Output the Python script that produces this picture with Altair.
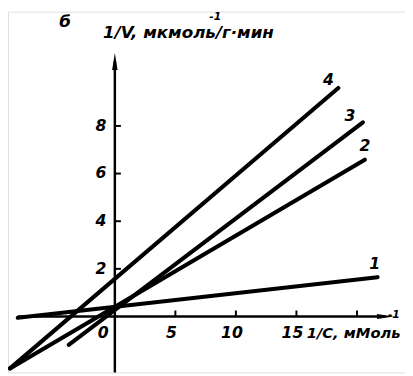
import altair as alt
import pandas as pd

# Line segments (Lineweaver-Burk plot), endpoints
line_ids = ["1", "1", "2", "2", "3", "3", "4", "4"]
line_x = [-8.02, 21.7, -8.66, 20.65, -3.81, 20.49, -8.66, 18.46]
line_y = [-0.05, 1.65, -2.18, 6.58, -1.19, 8.15, -2.18, 9.59]

# Line labels
lab_text = ["1", "2", "3", "4"]
lab_x = [21.46, 20.65, 19.43, 17.65]
lab_y = [2.22, 7.16, 8.40, 9.92]

# Axis ticks
xticks = [5, 10, 15, 20]
xtick_vals = [5, 10, 15]
xtick_labels = ["5", "10", "15"]
yticks = [2, 4, 6, 8]
ytick_labels = ["2", "4", "6", "8"]

XMIN, XMAX = -8.826, 23.968
YMIN, YMAX = -2.346, 12.798
W, H = 405, 368

FONT = "DejaVu Sans"

xs = alt.Scale(domain=[XMIN, XMAX], nice=False, zero=False)
ys = alt.Scale(domain=[YMIN, YMAX], nice=False, zero=False)

def X(f="x"):
    return alt.X(f"{f}:Q", scale=xs, axis=None)

def Y(f="y"):
    return alt.Y(f"{f}:Q", scale=ys, axis=None)

lines_df = pd.DataFrame({"id": line_ids, "x": line_x, "y": line_y})
lines = alt.Chart(lines_df).mark_line(color="black", strokeWidth=4.2, strokeCap="round", clip=False).encode(
    x=X(), y=Y(), detail="id:N"
)

# axes
axes_df = pd.DataFrame({"x": [-8.02, 0.0], "y": [0.0, -2.35], "x2": [22.3, 0.0], "y2": [0.0, 10.7]})
axes = alt.Chart(axes_df).mark_rule(color="black", strokeWidth=2.5).encode(
    x=X(), y=Y(), x2="x2:Q", y2="y2:Q"
)

arrow_up = alt.Chart(pd.DataFrame({"x": [0.0], "y": [10.7]})).mark_point(
    shape="M0,-1L0.32,1L-0.32,1Z", filled=True, color="black", opacity=1, size=300, strokeWidth=0
).encode(x=X(), y=Y())
arrow_right = alt.Chart(pd.DataFrame({"x": [22.35], "y": [0.0]})).mark_point(
    shape="M1,0L-1,0.3L-1,-0.3Z", filled=True, color="black", opacity=1, size=300, strokeWidth=0
).encode(x=X(), y=Y())

# ticks
xt_df = pd.DataFrame({"x": xticks, "y": [0.0] * len(xticks), "y2": [0.25] * len(xticks)})
xt = alt.Chart(xt_df).mark_rule(color="black", strokeWidth=2).encode(x=X(), y=Y(), y2="y2:Q")
yt_df = pd.DataFrame({"x": [0.0] * len(yticks), "x2": [0.5] * len(yticks), "y": yticks})
yt = alt.Chart(yt_df).mark_rule(color="black", strokeWidth=2).encode(x=X(), x2="x2:Q", y=Y())

txt = dict(font=FONT, fontStyle="italic", fontWeight="bold", color="black")

xl_df = pd.DataFrame({"x": [float(v) for v in xtick_vals], "t": xtick_labels, "y": [-0.68] * 3})
xl = alt.Chart(xl_df).mark_text(fontSize=16, dx=-4, **txt).encode(x=X(), y=Y(), text="t:N")
zero = alt.Chart(pd.DataFrame({"x": [-0.97], "y": [-0.68], "t": ["0"]})).mark_text(fontSize=16, **txt).encode(
    x=X(), y=Y(), text="t:N")
yl_df = pd.DataFrame({"x": [-1.15] * 4, "y": yticks, "t": ytick_labels})
yl = alt.Chart(yl_df).mark_text(fontSize=16, **txt).encode(x=X(), y=Y(), text="t:N")

ll_df = pd.DataFrame({"x": lab_x, "y": lab_y, "t": lab_text})
ll = alt.Chart(ll_df).mark_text(fontSize=16, **txt).encode(x=X(), y=Y(), text="t:N")

titles_df = pd.DataFrame({
    "x": [-0.97, -4.6],
    "y": [11.89, 12.35],
    "t": ["1/V, мкмоль/г·мин", "б"],
})
titles = alt.Chart(titles_df).mark_text(fontSize=17, align="left", **txt).encode(x=X(), y=Y(), text="t:N")

xtitle = alt.Chart(pd.DataFrame({"x": [15.85], "y": [-0.68], "t": ["1/C, мМоль"]})).mark_text(
    fontSize=15, align="left", **txt).encode(x=X(), y=Y(), text="t:N")

sup_df = pd.DataFrame({"x": [8.3, 23.05], "y": [12.55, 0.05], "t": ["-1", "-1"]})
sup = alt.Chart(sup_df).mark_text(fontSize=11, **txt).encode(x=X(), y=Y(), text="t:N")

chart = alt.layer(axes, arrow_up, arrow_right, xt, yt, lines, xl, zero, yl, ll, titles, xtitle, sup).properties(
    width=W, height=H, autosize=alt.AutoSizeParams(type="none"), padding=0
).configure_view(stroke=None).configure(background="white")

chart.save("out.html", embed_options={"renderer": "svg", "actions": False})
